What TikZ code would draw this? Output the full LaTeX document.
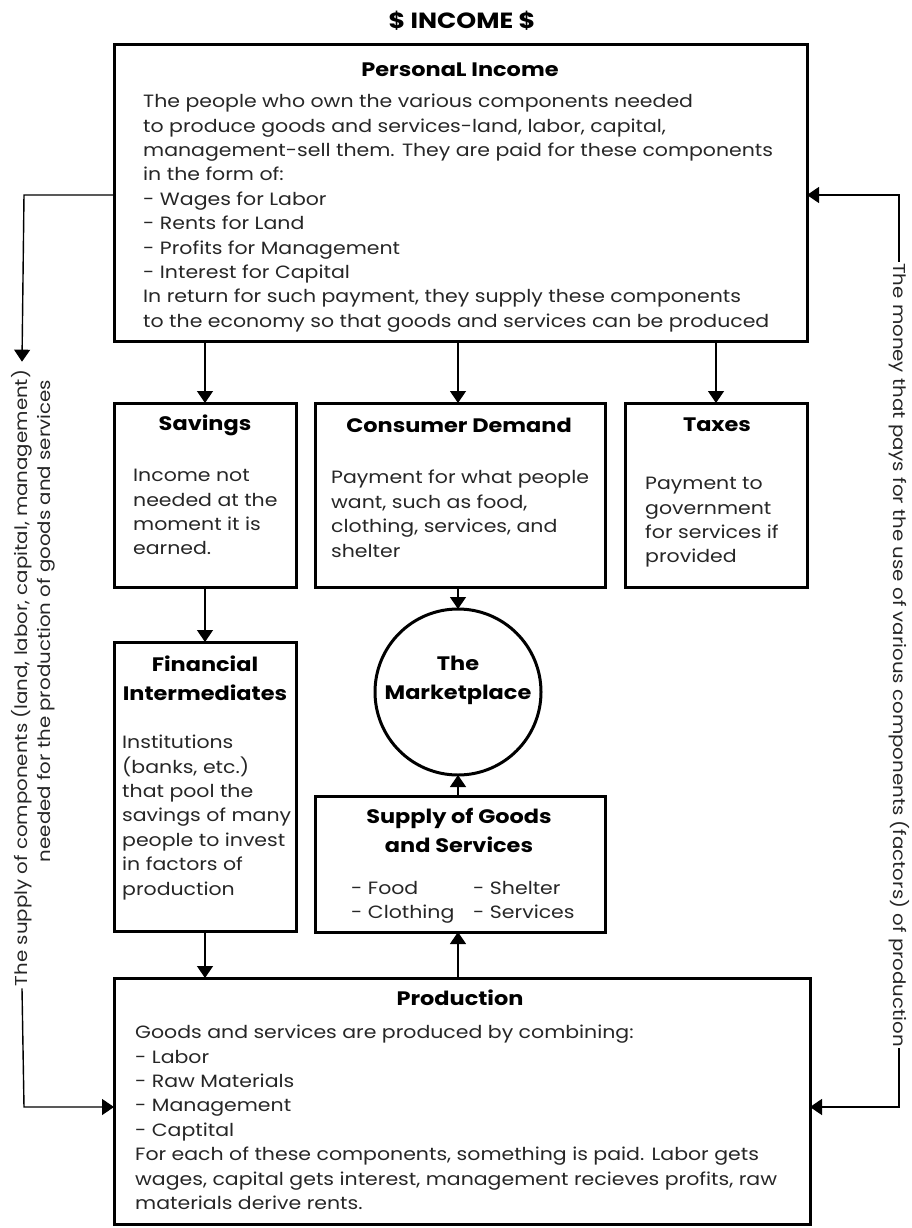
\documentclass[tikz,border=0pt]{standalone}
\usepackage{fontspec}
\setmainfont{Poppins}[FakeStretch=1.15]
\usetikzlibrary{arrows.meta,calc}
\tikzset{
  box/.style={draw=black,line width=3pt,inner sep=0pt,outer sep=0pt},
  conn/.style={draw=black,line width=1.4pt},
  arr/.style={conn,-{Triangle[width=16pt,length=12pt]}},
  head/.style={font=\fontsize{19.5}{29}\selectfont\bfseries,align=center,inner sep=0pt,text=black},
  body/.style={font=\fontsize{17.8}{24.4}\selectfont,align=left,inner sep=0pt,anchor=north west,text=black!85},
  side/.style={font=\fontsize{17.2}{24}\selectfont,inner sep=0pt,text=black!85},
}
\begin{document}
\begin{tikzpicture}[x=1pt,y=-1pt]
\useasboundingbox (0,0) rectangle (912,1228);
% title
\node[head,font=\fontsize{22}{25}\selectfont\bfseries] (title) at (462,21) {\$ INCOME \$};
% boxes
\node[box,minimum width=693pt,minimum height=296pt] (pi) at (460.5,193) {};
\node[box,minimum width=182pt,minimum height=184pt] (sav) at (205,495) {};
\node[box,minimum width=290pt,minimum height=184pt] (cd) at (460,495) {};
\node[box,minimum width=182pt,minimum height=184pt] (tax) at (716,495) {};
\node[box,minimum width=182pt,minimum height=289pt] (fi) at (205,786.5) {};
\node[box,circle,minimum size=166pt] (mkt) at (458,692) {};
\node[box,minimum width=290pt,minimum height=136pt] (sup) at (460,864) {};
\node[box,minimum width=696pt,minimum height=246pt] (prod) at (462,1101) {};
% texts
\node[head] (pih) at (460,70) {PersonaL Income};
\node[body] (pit) at (143,94) {The people who own the various components needed\\
to produce goods and services-land, labor, capital,\\
management-sell them. They are paid for these components\\
in the form of:\\
- Wages for Labor\\
- Rents for Land\\
- Profits for Management\\
- Interest for Capital\\
In return for such payment, they supply these components\\
to the economy so that goods and services can be produced};
\node[head] (savh) at (205,425) {Savings};
\node[body] (savt) at (133,469) {Income not\\needed at the\\moment it is\\earned.};
\node[head] (cdh) at (459,425) {Consumer Demand};
\node[body] (cdt) at (331,470) {Payment for what people\\want, such as food,\\clothing, services, and\\shelter};
\node[head] (taxh) at (717,425) {Taxes};
\node[body] (taxt) at (645,477) {Payment to\\government\\for services if\\provided};
\node[head] (fih) at (205,678) {Financial\\Intermediates};
\node[body] (fit) at (122,735) {Institutions\\(banks, etc.)\\that pool the\\savings of many\\people to invest\\in factors of\\production};
\node[head] (mkth) at (458,680) {The\\Marketplace};
\node[head] (suph) at (459,830) {Supply of Goods\\and Services};
\node[body] (sup1) at (351,881) {- Food\\- Clothing};
\node[body] (sup2) at (473,881) {- Shelter\\- Services};
\node[head] (prodh) at (460,998) {Production};
\node[body] (prodt) at (135,1025) {Goods and services are produced by combining:\\
- Labor\\
- Raw Materials\\
- Management\\
- Captital\\
For each of these components, something is paid. Labor gets\\
wages, capital gets interest, management recieves profits, raw\\
materials derive rents.};
% side texts
\node[side,rotate=90] (left1) at (22,678) {The supply of components (land, labor, capital, management)};
\node[side,rotate=90] (left2) at (46,621) {needed for the production of goods and services};
\node[side,rotate=-90] (right) at (899,655) {The money that pays for the use of various components (factors) of production};
% connectors
\draw[arr] (pi.south -| sav.north) -- (sav.north);
\draw[arr] (pi.south -| mkt.north) -- (mkt.north |- cd.north);
\draw[arr] (pi.south -| tax.north) -- (tax.north);
\draw[arr] (sav.south) -- (fi.north);
\draw[arr] (cd.south -| mkt.north) -- (mkt.north);
\draw[arr] (sup.north -| mkt.south) -- (mkt.south);
\draw[arr] (fi.south) -- (fi.south |- prod.north);
\draw[arr] (prod.north -| mkt.south) -- (mkt.south |- sup.south);
% side connectors
\coordinate (la) at (24,195);
\coordinate (lb) at (24,1107);
\draw[arr] (pi.west |- la) -- (la) -- ($(left1.east)+(0,-8)$);
\draw[arr] ($(left1.west)+(0,2)$) -- (lb) -- (prod.west |- lb);
\coordinate (ra) at (899,195);
\coordinate (rb) at (899,1107);
\draw[arr] ($(right.west)+(0,-1)$) -- (ra) -- (pi.east |- ra);
\draw[arr] ($(right.east)+(0,1)$) -- (rb) -- (prod.east |- rb);
\end{tikzpicture}
\end{document}
